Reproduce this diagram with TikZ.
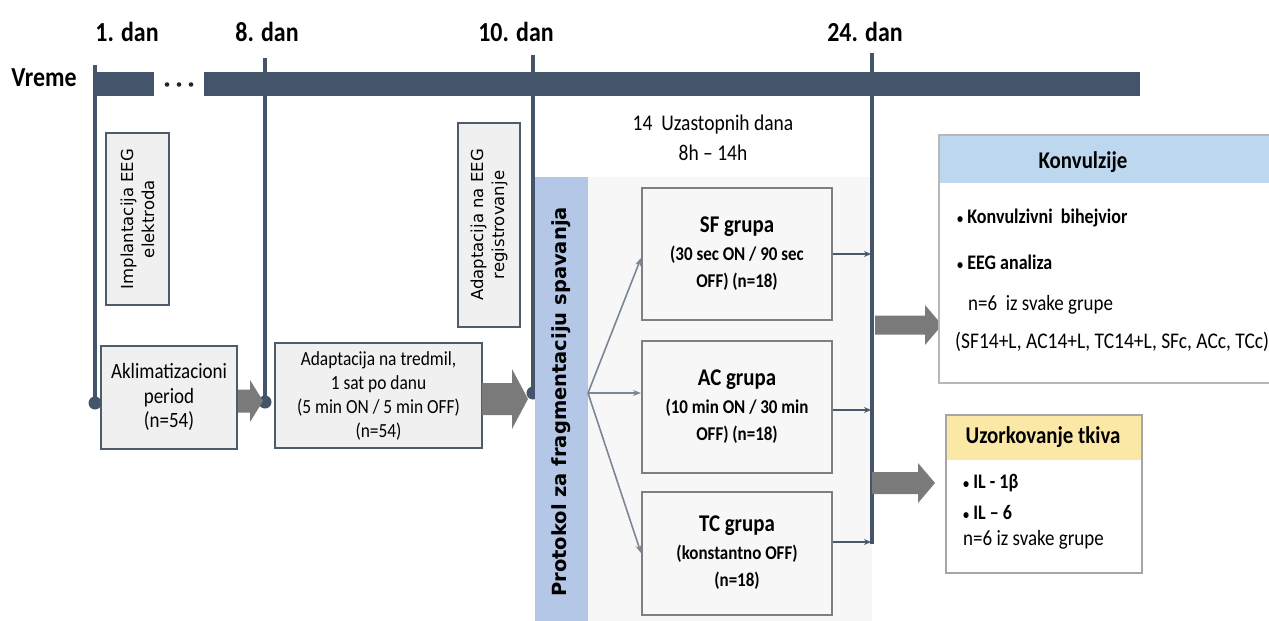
\documentclass[tikz,border=0pt]{standalone}
\usepackage{fontspec}
\setmainfont{Carlito}[FakeStretch=0.87]
\newfontfamily\verd{DejaVu Sans}
\usetikzlibrary{calc,arrows.meta}
\definecolor{slate}{HTML}{44546A}
\definecolor{arrowgray}{HTML}{7A7A7A}
\definecolor{boxgray}{HTML}{7F7F7F}
\definecolor{lightfill}{HTML}{F0F0F0}
\definecolor{panelfill}{HTML}{F7F7F7}
\definecolor{protblue}{HTML}{B4C7E7}
\definecolor{konvblue}{HTML}{BDD7EE}
\definecolor{uzoryellow}{HTML}{FCE8A6}
\definecolor{fangray}{HTML}{7B8697}
\tikzset{
  dayline/.style={draw=slate, line width=4pt},
  daydot/.style={circle, fill=slate, inner sep=0pt, minimum size=13pt},
  daylabel/.style={font=\fontsize{27.5}{30}\selectfont\bfseries},
  sidebox/.style={draw=slate!85!gray, line width=2pt, fill=lightfill, inner sep=2pt},
  vertbox/.style={sidebox, rotate=90, align=center, font=\verd\fontsize{16.5}{21}\selectfont},
  stagebox/.style={sidebox, align=center},
  groupbox/.style={draw=boxgray, line width=2pt, fill=panelfill, align=center,
    font=\fontsize{19.5}{27.5}\selectfont\bfseries},
  fanarrow/.style={draw=fangray, line width=1.6pt, -{Stealth[length=8pt,width=6pt]}},
  joinarrow/.style={draw=slate!90!gray, line width=2pt, -{Stealth[length=7pt,width=6pt]}},
  bodytext/.style={anchor=west, inner sep=0pt},
}
\newcommand\smallbullet{{\fontsize{14}{14}\selectfont\textbullet}\ }
% filled block arrow: x start, x end, y centre, half shaft, half head, head length
\newcommand\blockarr[6]{%
  \fill[arrowgray] (#1,#3-#4) -- (#2-#6,#3-#4) -- (#2-#6,#3-#5) -- (#2,#3)
    -- (#2-#6,#3+#5) -- (#2-#6,#3+#4) -- (#1,#3+#4) -- cycle;}
\begin{document}
\begin{tikzpicture}[x=1pt,y=-1pt]
\useasboundingbox (0,0) rectangle (1269,621);
\clip (0,0) rectangle (1269,621);
\fill[white] (0,0) rectangle (1269,621);

% protocol panel
\fill[panelfill] (588,177) rectangle (872,621);

% time axis
\fill[slate] (93,72) rectangle (1140,96);
\fill[white] (154,72) rectangle (204,96);
\foreach \dx in {167,179,191} \fill[black!85] (\dx,84.5) circle (2.3);
\node[font=\fontsize{27.5}{30}\selectfont\bfseries] (vreme) at (44,78) {Vreme};

% day markers
\coordinate (d1top) at (95,65);   \node[daydot] (d1dot) at (95,403) {};
\coordinate (d8top) at (265,58);  \node[daydot] (d8dot) at (265,402) {};
\coordinate (d10top) at (533,55); \node[daydot] (d10dot) at (533,393) {};
\coordinate (d24top) at (872,53); \coordinate (d24bot) at (872,544);
\draw[dayline] (d1top) -- (d1dot.center);
\draw[dayline] (d8top) -- (d8dot.center);
\draw[dayline] (d10top) -- (d10dot.center);
\draw[dayline, line width=3.5pt] (d24top) -- (d24bot);
\node[daylabel] (l1) at (127,32) {1. dan};
\node[daylabel] (l8) at (267,32) {8. dan};
\node[daylabel] (l10) at (516,32) {10. dan};
\node[daylabel] (l24) at (865,32) {24. dan};

% early stages
\node[vertbox, minimum width=172pt, minimum height=63pt] (impl) at (137.5,219) {Implantacija EEG\\elektroda};
\node[vertbox, minimum width=204pt, minimum height=62pt] (adeeg) at (489,225) {Adaptacija na EEG\\registrovanje};
\node[stagebox, minimum width=136pt, minimum height=103pt, font=\fontsize{21.8}{24.5}\selectfont] (akl) at (169,397) {Aklimatizacioni\\period\\(n=54)};
\node[stagebox, minimum width=207pt, minimum height=105pt, font=\fontsize{20}{24}\selectfont] (adtr) at (378.5,395.5) {Adaptacija na tredmil,\\1 sat po danu\\(5 min ON / 5 min OFF)\\(n=54)};
\blockarr{238}{263}{401}{11.5}{21}{13}
\blockarr{482}{528}{399}{16}{30}{16}

% sleep fragmentation protocol
\fill[protblue] (535,177) rectangle (588,621);
\node[rotate=90, font=\verd\bfseries\fontsize{19.5}{22}\selectfont] (prot) at (561.5,402) {Protokol za fragmentaciju spavanja};
\node[align=center, font=\fontsize{22.4}{30}\selectfont] (days14) at (713,138) {14\ \ Uzastopnih dana\\8h -- 14h};

\node[groupbox, minimum width=190pt, minimum height=132pt] (sf) at (737,254)
  {{\fontsize{24}{28}\selectfont SF grupa}\\(30 sec ON / 90 sec\\OFF) (n=18)};
\node[groupbox, minimum width=190pt, minimum height=132pt] (ac) at (737,407)
  {{\fontsize{24}{28}\selectfont AC grupa}\\(10 min ON / 30 min\\OFF) (n=18)};
\node[groupbox, minimum width=190pt, minimum height=123pt] (tc) at (737,553)
  {{\fontsize{24}{28}\selectfont TC grupa}\\(konstantno OFF)\\(n=18)};

\coordinate (fan) at (588,393);
\draw[fanarrow] (fan) -- ($(sf.west)+(0,4)$);
\draw[fanarrow] (fan) -- (ac.west |- fan);
\draw[fanarrow] (fan) -- (tc.west);

\coordinate (jsf) at (871,254);
\coordinate (jac) at (871,410);
\coordinate (jtc) at (871,542);
\draw[joinarrow] (sf.east |- jsf) -- (jsf);
\draw[joinarrow] (ac.east |- jac) -- (jac);
\draw[joinarrow] (tc.east |- jtc) -- (jtc);

% outcomes
\blockarr{875}{942}{325}{9.5}{20}{17}
\blockarr{872}{935}{483}{11}{20}{17}

\fill[white] (939,135) rectangle (1280,383);
\fill[konvblue] (939,135) rectangle (1280,183);
\draw[draw=black!28, line width=1.6pt] (939,135) rectangle (1280,383);
\node[font=\fontsize{24}{26}\selectfont\bfseries] (konv) at (1083,162) {Konvulzije};
\node[bodytext, font=\fontsize{20.7}{24}\selectfont\bfseries] (k1) at (957,218) {\smallbullet Konvulzivni\ \ bihejvior};
\node[bodytext, font=\fontsize{20.7}{24}\selectfont\bfseries] (k2) at (957,262) {\smallbullet EEG analiza};
\node[bodytext, font=\fontsize{21.8}{24}\selectfont] (k3) at (968,305) {n=6\ \ iz svake grupe};
\node[bodytext, font=\fontsize{22.4}{24}\selectfont] (k4) at (955,342) {(SF14+L, AC14+L, TC14+L, SFc, ACc, TCc)};

\fill[white] (946,415) rectangle (1142,573);
\fill[uzoryellow] (946,415) rectangle (1142,460);
\draw[draw=black!35, line width=1.6pt] (946,415) rectangle (1142,573);
\node[font=\fontsize{24}{26}\selectfont\bfseries] (uzor) at (1043,437) {Uzorkovanje tkiva};
\node[bodytext, font=\fontsize{20.7}{24}\selectfont\bfseries] (u1) at (963,483) {\smallbullet IL - 1β};
\node[bodytext, font=\fontsize{20.7}{24}\selectfont\bfseries] (u2) at (963,513) {\smallbullet IL -- 6};
\node[bodytext, font=\fontsize{21.8}{24}\selectfont] (u3) at (963,540) {n=6 iz svake grupe};
\end{tikzpicture}
\end{document}
